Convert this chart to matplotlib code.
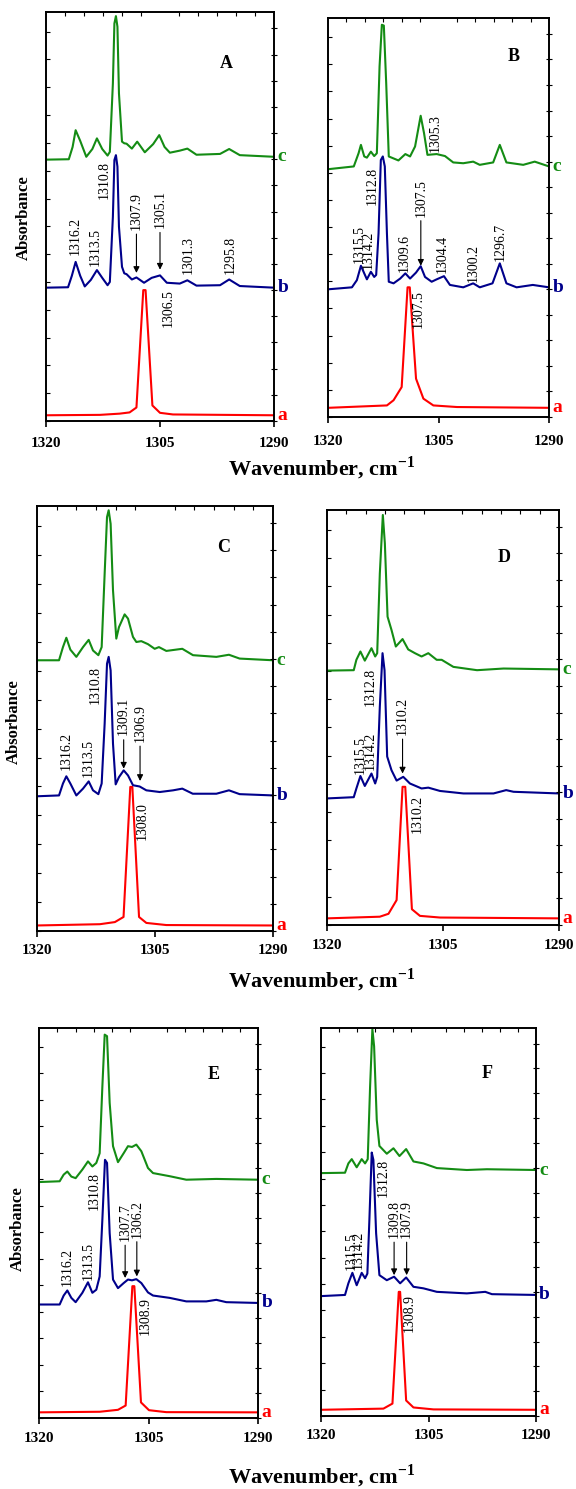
import matplotlib
matplotlib.use('Agg')
import matplotlib.pyplot as plt
from matplotlib.ticker import MultipleLocator, NullFormatter
import matplotlib.transforms as mtransforms

plt.rcParams['font.family'] = ['Liberation Serif', 'DejaVu Serif']
plt.rcParams['mathtext.fontset'] = 'custom'
plt.rcParams['mathtext.rm'] = 'Liberation Serif'
plt.rcParams['mathtext.bf'] = 'Liberation Serif:bold'

RED = '#ff0000'
BLUE = '#00008b'
GREEN = '#148c14'

# ---- panel A ----
A_a_wn = [1320, 1312.9, 1310.3, 1309.0, 1308.1, 1307.2, 1306.9, 1306.0, 1305.0, 1303.3, 1290]
A_a_abs = [1.4, 1.5, 1.8, 2.1, 3.3, 32.0, 32.0, 3.8, 2.0, 1.6, 1.4]
A_b_wn = [1320, 1317.1, 1316.6, 1316.1, 1315.5, 1314.9, 1314.1, 1313.3, 1312.6, 1311.9,
          1311.6, 1311.2, 1311.0, 1310.8, 1310.6, 1310.4, 1310.0, 1309.7, 1309.4, 1308.7,
          1308.1, 1307.1, 1306.1, 1305.0, 1304.1, 1302.4, 1301.4, 1300.2, 1297.1, 1295.9,
          1294.5, 1290]
A_b_abs = [32.6, 32.7, 35.5, 38.9, 35.5, 32.9, 34.5, 36.9, 35.0, 33.2,
           34.0, 49.9, 63.8, 65.0, 62.2, 47.5, 37.7, 36.1, 35.9, 34.6,
           35.1, 33.8, 35.0, 35.6, 33.8, 33.6, 34.4, 33.1, 33.2, 34.6,
           33.0, 32.6]
A_c_wn = [1320, 1317.0, 1316.5, 1316.1, 1315.5, 1314.7, 1313.9, 1313.3, 1312.6, 1311.9,
          1311.6, 1311.2, 1311.0, 1310.8, 1310.6, 1310.4, 1310.0, 1309.7, 1309.4, 1308.7,
          1308.0, 1307.0, 1305.9, 1305.1, 1304.4, 1303.7, 1302.4, 1301.4, 1300.2, 1297.1,
          1295.9, 1294.5, 1290]
A_c_abs = [63.9, 64.0, 67.0, 71.1, 68.5, 64.6, 66.5, 69.1, 66.5, 64.9,
           65.8, 82.5, 97.2, 99.0, 96.4, 80.1, 68.3, 67.9, 67.8, 66.6,
           68.3, 65.7, 67.7, 69.9, 67.0, 65.6, 66.1, 66.6, 65.1, 65.3,
           66.5, 65.0, 64.6]
# peak labels (text, wavenumber, absorbance at the foot of the text)
A_labels = [('1316.2', 1316.1, 40.5), ('1313.5', 1313.55, 37.9), ('1310.8', 1312.4, 54.2),
            ('1301.3', 1301.3, 35.9), ('1295.8', 1295.8, 35.9), ('1306.5', 1303.9, 23.0)]
# arrowed labels (text, wavenumber, foot of text, arrow tip)
A_arrows = [('1307.9', 1308.1, 46.7, 36.2), ('1305.1', 1305.0, 47.1, 37.0)]

# ---- panel B ----
B_a_wn = [1320, 1312.0, 1311.1, 1310.0, 1309.2, 1308.9, 1308.05, 1307.05, 1305.7, 1302.5, 1290]
B_a_abs = [2.3, 2.9, 4.2, 7.5, 32.5, 32.5, 9.6, 4.6, 2.9, 2.5, 2.3]
B_b_wn = [1320, 1316.75, 1316.08, 1315.53, 1315.08, 1314.72, 1314.18, 1313.73, 1313.46, 1313.14,
          1312.83, 1312.56, 1312.29, 1312.0, 1311.75, 1311.1, 1310.2, 1309.5, 1308.86, 1308.05,
          1307.42, 1306.83, 1305.93, 1305.25, 1304.26, 1303.45, 1301.64, 1300.29, 1299.4, 1297.67,
          1296.68, 1295.78, 1294.4, 1292.2, 1290]
B_b_abs = [32.0, 32.5, 34.3, 37.9, 36.0, 34.5, 36.4, 35.1, 35.6, 46.0,
           64.4, 65.3, 62.8, 46.0, 33.9, 33.5, 34.7, 36.0, 34.7, 36.2,
           37.8, 35.1, 33.9, 34.5, 35.3, 33.1, 32.5, 33.5, 32.5, 33.5,
           38.5, 33.5, 32.5, 33.1, 32.5]
B_c_wn = [1320, 1316.5, 1315.85, 1315.53, 1315.08, 1314.72, 1314.18, 1313.73, 1313.37, 1313.0,
          1312.69, 1312.42, 1312.1, 1311.75, 1310.44, 1309.5, 1308.86, 1308.18, 1307.42, 1306.96,
          1306.5, 1305.25, 1304.12, 1303.0, 1301.64, 1300.29, 1299.4, 1297.58, 1296.68, 1295.78,
          1293.5, 1291.94, 1290]
B_c_abs = [62.1, 62.8, 66.1, 68.2, 65.3, 65.0, 66.5, 65.4, 66.1, 87.9,
           98.3, 98.1, 83.7, 65.3, 64.3, 65.9, 65.3, 67.8, 75.5, 71.1,
           65.7, 65.9, 65.4, 63.8, 63.6, 64.0, 63.2, 63.8, 68.2, 63.8,
           63.2, 64.0, 62.8]
B_labels = [('1305.3', 1305.43, 66.5), ('1312.8', 1314.05, 53.1), ('1315.5', 1315.7, 38.5),
            ('1314.2', 1314.54, 37.2), ('1309.6', 1309.7, 36.4), ('1304.4', 1304.44, 36.0),
            ('1300.2', 1300.29, 33.9), ('1296.7', 1296.59, 39.2), ('1307.5', 1307.69, 22.2)]
B_arrows = [('1307.5', 1307.4, 50.2, 37.9)]

# ---- panel C ----
C_a_wn = [1320, 1312.0, 1310.1, 1309.0, 1308.14, 1307.88, 1307.03, 1306.1, 1303.56, 1290]
C_a_abs = [1.3, 1.6, 2.1, 3.3, 33.9, 33.9, 3.3, 1.9, 1.4, 1.3]
C_b_wn = [1320, 1317.2, 1316.7, 1316.27, 1315.76, 1315.0, 1314.15, 1313.43, 1312.88, 1312.2,
          1311.78, 1311.4, 1311.1, 1310.89, 1310.64, 1310.34, 1310.0, 1309.58, 1308.98, 1308.43,
          1307.8, 1306.95, 1306.1, 1304.4, 1302.7, 1301.53, 1300.2, 1297.2, 1295.6, 1294.24,
          1290]
C_b_abs = [31.7, 31.9, 34.7, 36.4, 34.7, 31.9, 33.5, 35.2, 33.1, 32.2,
           34.7, 48.8, 62.9, 64.5, 61.3, 44.1, 34.5, 36.2, 37.8, 36.6,
           34.3, 34.0, 33.1, 32.7, 33.1, 33.5, 32.3, 32.3, 33.1, 32.2,
           31.9]
C_c_wn = [1320, 1317.2, 1316.7, 1316.27, 1315.76, 1315.0, 1314.15, 1313.43, 1312.88, 1312.2,
          1311.78, 1311.4, 1311.1, 1310.89, 1310.64, 1310.34, 1309.92, 1309.58, 1308.86, 1308.43,
          1307.8, 1307.37, 1306.74, 1305.9, 1305.04, 1304.5, 1303.56, 1301.53, 1300.17, 1297.2,
          1295.6, 1294.24, 1290]
C_c_abs = [63.7, 63.7, 66.8, 69.0, 66.2, 64.5, 66.8, 68.5, 66.0, 64.9,
           66.8, 84.1, 97.4, 99.0, 95.8, 80.2, 68.8, 71.5, 74.5, 73.5,
           69.2, 68.0, 68.2, 67.5, 66.4, 66.8, 65.9, 66.4, 64.9, 64.5,
           65.0, 64.1, 63.7]
C_labels = [('1316.2', 1316.31, 37.8), ('1313.5', 1313.43, 36.2), ('1310.8', 1312.54, 53.5),
            ('1308.0', 1306.6, 21.3)]
C_arrows = [('1309.1', 1308.98, 46.0, 38.2), ('1306.9', 1306.9, 44.5, 35.3)]

# ---- panel D ----
D_a_wn = [1320, 1313.17, 1312.05, 1311.0, 1310.23, 1309.88, 1309.02, 1307.98, 1305.39, 1290]
D_a_abs = [1.6, 2.0, 2.7, 6.0, 33.3, 33.3, 3.8, 2.2, 1.8, 1.6]
D_b_wn = [1320, 1316.54, 1316.2, 1315.68, 1315.11, 1314.25, 1313.77, 1313.51, 1313.17, 1312.82,
          1312.56, 1312.22, 1311.66, 1311.0, 1310.14, 1309.28, 1307.77, 1306.9, 1305.39, 1302.36,
          1298.47, 1296.83, 1295.88, 1290]
D_b_abs = [30.5, 30.8, 32.9, 35.9, 33.5, 36.5, 34.1, 35.7, 52.6, 65.5,
           61.4, 40.6, 37.3, 34.8, 35.7, 34.1, 32.9, 33.1, 32.3, 31.7,
           31.7, 32.5, 32.1, 31.7]
D_c_wn = [1320, 1316.54, 1316.2, 1315.68, 1315.11, 1314.25, 1313.77, 1313.51, 1313.17, 1312.78,
          1312.52, 1312.17, 1311.66, 1311.1, 1310.23, 1309.5, 1308.63, 1307.77, 1306.9, 1305.82,
          1305.17, 1303.66, 1300.6, 1297.17, 1290]
D_c_abs = [61.3, 61.4, 63.9, 65.9, 63.7, 66.7, 64.7, 65.5, 84.7, 98.8,
           92.0, 74.3, 71.1, 67.1, 68.9, 66.4, 65.5, 64.7, 65.5, 63.9,
           63.9, 62.2, 61.4, 61.8, 61.6]
D_labels = [('1312.8', 1314.38, 52.8), ('1315.5', 1315.72, 36.5), ('1314.2', 1314.47, 37.3),
            ('1310.2', 1308.33, 22.1)]
D_arrows = [('1310.2', 1310.23, 45.8, 36.5)]

# ---- panel E ----
E_a_wn = [1320, 1311.69, 1309.18, 1308.13, 1307.21, 1306.94, 1306.03, 1304.93, 1302.56, 1290]
E_a_abs = [1.45, 1.6, 2.1, 3.2, 33.8, 33.8, 4.0, 2.0, 1.5, 1.45]
E_b_wn = [1320, 1317.17, 1316.62, 1316.12, 1315.57, 1314.98, 1314.06, 1313.29, 1312.69, 1312.15,
          1311.69, 1311.32, 1310.96, 1310.68, 1310.32, 1309.86, 1309.18, 1308.4, 1307.81, 1307.26,
          1306.67, 1305.98, 1305.07, 1304.38, 1302.1, 1299.82, 1297.08, 1295.71, 1294.34, 1290]
E_b_abs = [29.1, 29.1, 31.4, 32.7, 30.8, 29.7, 32.1, 34.8, 32.1, 32.9,
           36.3, 50.9, 66.2, 65.4, 47.4, 35.5, 33.3, 34.6, 35.5, 35.3,
           35.6, 34.6, 32.2, 31.4, 30.8, 29.9, 29.9, 30.3, 29.7, 29.5]
E_c_wn = [1320, 1317.17, 1316.62, 1316.12, 1315.57, 1314.98, 1314.06, 1313.29, 1312.69, 1312.15,
          1311.69, 1311.32, 1311.0, 1310.68, 1310.32, 1309.86, 1309.18, 1308.4, 1307.81, 1307.26,
          1306.67, 1305.98, 1305.07, 1304.38, 1302.1, 1299.82, 1295.71, 1290]
E_c_abs = [60.5, 60.7, 62.4, 63.2, 61.9, 61.5, 63.7, 65.8, 64.5, 65.4,
           67.9, 85.0, 98.3, 97.9, 80.8, 69.7, 65.6, 67.9, 69.7, 69.5,
           70.1, 68.4, 64.1, 62.8, 62.0, 61.1, 61.3, 61.1]
E_labels = [('1316.2', 1316.12, 33.8), ('1313.5', 1313.2, 35.5), ('1310.8', 1312.37, 53.4),
            ('1308.9', 1305.39, 21.4)]
E_arrows = [('1307.7', 1308.2, 45.3, 35.9), ('1306.2', 1306.6, 46.2, 36.3)]

# ---- panel F ----
F_a_wn = [1320, 1311.29, 1310.03, 1309.15, 1308.96, 1308.12, 1307.1, 1304.3, 1290]
F_a_abs = [1.6, 1.9, 3.2, 32.0, 32.0, 4.0, 2.2, 1.7, 1.6]
F_b_wn = [1320, 1316.65, 1316.18, 1315.62, 1315.02, 1314.32, 1313.85, 1313.53, 1313.25, 1312.92,
          1312.69, 1312.31, 1311.85, 1310.82, 1309.8, 1308.96, 1308.12, 1307.1, 1305.7, 1303.84,
          1299.65, 1297.08, 1296.15, 1290]
F_b_abs = [30.9, 31.2, 34.2, 36.9, 33.7, 36.9, 35.5, 36.7, 50.5, 67.9,
           66.0, 47.1, 36.3, 35.0, 35.9, 34.2, 35.7, 33.3, 32.9, 32.0,
           31.6, 32.0, 31.4, 31.2]
F_c_wn = [1320, 1316.65, 1316.18, 1315.71, 1315.02, 1314.32, 1313.85, 1313.48, 1313.15, 1312.83,
          1312.59, 1312.22, 1311.85, 1310.82, 1309.89, 1309.05, 1308.12, 1307.1, 1305.7, 1303.84,
          1299.65, 1296.85, 1290]
F_c_abs = [62.6, 62.7, 65.1, 66.2, 64.1, 66.2, 65.1, 66.2, 84.9, 99.7,
           95.3, 76.3, 69.6, 67.6, 69.0, 67.0, 68.8, 65.6, 65.1, 63.9,
           63.4, 63.6, 63.4]
F_labels = [('1312.8', 1311.29, 56.5), ('1315.5', 1315.81, 37.6), ('1314.2', 1314.78, 38.0),
            ('1308.9', 1307.66, 21.7)]
F_arrows = [('1309.8', 1309.8, 45.8, 36.3), ('1307.9', 1308.05, 45.8, 36.3)]

W, H = 576, 1489
fig = plt.figure(figsize=(W / 100, H / 100), dpi=100)


def px_axes(left, top, right, bottom):
    return fig.add_axes([left / W, 1 - bottom / H, (right - left) / W, (bottom - top) / H])


def draw_panel(ax, letter, letter_pos, curves, labels, arrows, pad):
    for wn, ab, col, tag in curves:
        ax.plot(wn, ab, color=col, lw=1.5, solid_joinstyle='round')
        tr = mtransforms.blended_transform_factory(ax.transAxes, ax.transData)
        ax.text(1.015, ab[-1], tag, transform=tr, color=col, fontsize=14,
                fontweight='bold', ha='left', va='center')
    for txt, x, y in labels:
        ax.text(x, y, txt, rotation=90, ha='center', va='bottom', fontsize=10)
    for txt, x, y, tip in arrows:
        ax.text(x, y, txt, rotation=90, ha='center', va='bottom', fontsize=10)
        ax.annotate('', xy=(x, tip), xytext=(x, y - 1.0),
                    arrowprops=dict(arrowstyle='-|>', color='black', lw=0.8,
                                    mutation_scale=9, shrinkA=0, shrinkB=0))
    ax.text(letter_pos[0], letter_pos[1], letter, fontsize=13, fontweight='bold',
            ha='center', va='center')
    ax.set_xlim(1320, 1290)
    ax.set_ylim(0, 100)
    ax.xaxis.set_major_locator(MultipleLocator(15))
    ax.xaxis.set_minor_locator(MultipleLocator(2.5))
    ax.yaxis.set_major_locator(MultipleLocator(6.8))
    ax.yaxis.set_major_formatter(NullFormatter())
    ax.tick_params(axis='x', which='major', bottom=True, top=False, direction='out',
                   length=4, width=1.2, pad=pad, labelsize=11)
    ax.tick_params(axis='x', which='minor', bottom=False, top=True, direction='in',
                   length=3, width=0.8)
    ax.tick_params(axis='y', which='major', left=True, right=False, direction='in',
                   length=3, width=0.8)
    for lab in ax.get_xticklabels():
        lab.set_fontweight('bold')
    for sp in ax.spines.values():
        sp.set_linewidth(1.4)
    ax2 = ax.twinx()
    ax2.set_ylim(0, 100)
    ax2.yaxis.set_major_locator(MultipleLocator(6.4))
    ax2.yaxis.set_major_formatter(NullFormatter())
    ax2.tick_params(axis='y', direction='inout', length=4, width=0.8)
    for sp in ax2.spines.values():
        sp.set_visible(False)


axA = px_axes(46, 12, 274, 421)
draw_panel(axA, 'A', (1296.3, 87.4),
           [(A_a_wn, A_a_abs, RED, 'a'), (A_b_wn, A_b_abs, BLUE, 'b'), (A_c_wn, A_c_abs, GREEN, 'c')],
           A_labels, A_arrows, 7.3)
axB = px_axes(328, 18, 549, 417)
draw_panel(axB, 'B', (1294.8, 90.4),
           [(B_a_wn, B_a_abs, RED, 'a'), (B_b_wn, B_b_abs, BLUE, 'b'), (B_c_wn, B_c_abs, GREEN, 'c')],
           B_labels, B_arrows, 8.9)
axC = px_axes(37, 506, 273, 931)
draw_panel(axC, 'C', (1296.3, 90.2),
           [(C_a_wn, C_a_abs, RED, 'a'), (C_b_wn, C_b_abs, BLUE, 'b'), (C_c_wn, C_c_abs, GREEN, 'c')],
           C_labels, C_arrows, 5.3)
axD = px_axes(327, 510, 559, 925)
draw_panel(axD, 'D', (1297.1, 88.6),
           [(D_a_wn, D_a_abs, RED, 'a'), (D_b_wn, D_b_abs, BLUE, 'b'), (D_c_wn, D_c_abs, GREEN, 'c')],
           D_labels, D_arrows, 6.4)
axE = px_axes(39, 1028, 258, 1418)
draw_panel(axE, 'E', (1296.1, 88.0),
           [(E_a_wn, E_a_abs, RED, 'a'), (E_b_wn, E_b_abs, BLUE, 'b'), (E_c_wn, E_c_abs, GREEN, 'c')],
           E_labels, E_arrows, 6.0)
axF = px_axes(321, 1028, 536, 1416)
draw_panel(axF, 'F', (1296.85, 88.4),
           [(F_a_wn, F_a_abs, RED, 'a'), (F_b_wn, F_b_abs, BLUE, 'b'), (F_c_wn, F_c_abs, GREEN, 'c')],
           F_labels, F_arrows, 5.7)

# shared texts
for ypix in (468, 980, 1476):
    fig.text(322 / W, 1 - ypix / H, r'Wavenumber, cm$^{\mathbf{-1}}$', fontsize=16,
             fontweight='bold', ha='center', va='center')
for xpix, ypix in ((24, 218), (14, 722), (18, 1229)):
    fig.text(xpix / W, 1 - ypix / H, 'Absorbance', rotation=90, fontsize=12,
             fontweight='bold', ha='center', va='center')

fig.savefig('out.png', dpi=100)
